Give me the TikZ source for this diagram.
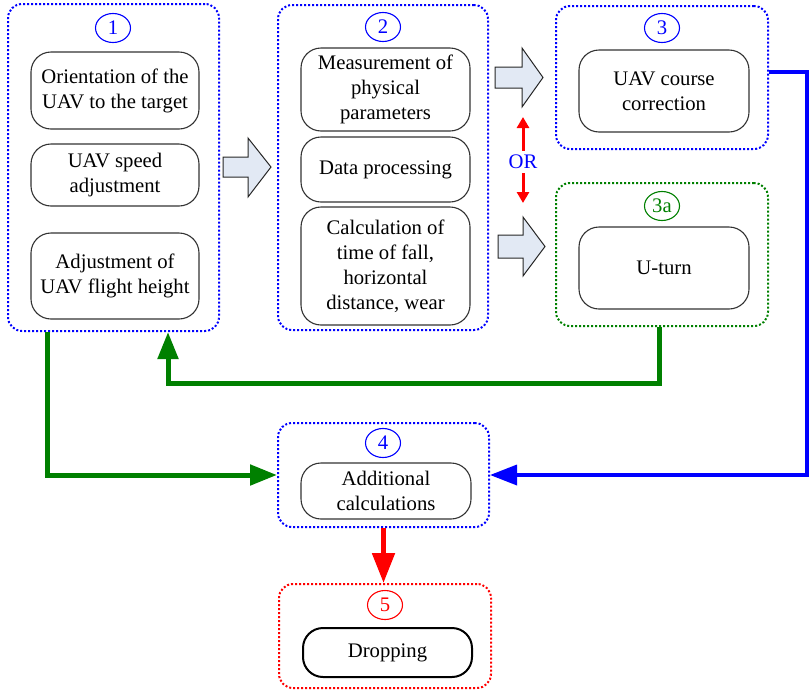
\documentclass[tikz,border=0pt]{standalone}
\usepackage{fontspec}
\setmainfont{Liberation Serif}
\newfontfamily\tnrfont{Liberation Serif}
\usetikzlibrary{arrows.meta,shapes.geometric}
\definecolor{myblue}{RGB}{0,0,255}
\definecolor{mygreen}{RGB}{0,128,0}
\definecolor{myred}{RGB}{255,0,0}
\definecolor{arrfill}{RGB}{226,233,244}
\newcommand{\fsz}{\tnrfont\fontsize{20.7}{25}\selectfont}
\begin{document}
\begin{tikzpicture}[x=1pt,y=-1pt,
  grp/.style={draw, line width=2pt, dash pattern=on 2pt off 2pt, rounded corners=14pt, inner sep=0pt},
  inbox/.style={draw=black!80, line width=1.1pt, rounded corners=20pt, align=center, font=\fsz, inner sep=0pt},
  num/.style={ellipse, draw, line width=1.1pt, minimum width=35pt, minimum height=29pt, inner sep=0pt, font=\fsz},
  blockarr/.style={draw=black!85, line width=1pt, fill=arrfill, line join=miter},
  blueline/.style={draw=myblue, line width=3.5pt, -{Triangle[length=27pt,width=20pt]}},
  greenline/.style={draw=mygreen, line width=5pt, -{Triangle[length=27pt,width=20pt]}},
  redline/.style={draw=myred, line width=5pt, -{Triangle[length=30pt,width=22pt]}},
  orarr/.style={draw=myred, line width=3pt, -{Triangle[length=11pt,width=12pt]}}]
\useasboundingbox (0,0) rectangle (811,694);
% group frames
\node[grp, draw=myblue, minimum width=211pt, minimum height=327pt] (g1) at (113.5,167.5) {};
\node[grp, draw=myblue, minimum width=210pt, minimum height=325pt] (g2) at (383,167.5) {};
\node[grp, draw=myblue, minimum width=212pt, minimum height=143pt] (g3) at (662,77.5) {};
\node[grp, draw=mygreen, minimum width=212pt, minimum height=143pt] (g3a) at (662,254.5) {};
\node[grp, draw=myblue, minimum width=211pt, minimum height=104pt] (g4) at (383.5,475) {};
\node[grp, draw=myred, minimum width=212pt, minimum height=104pt] (g5) at (385,636) {};
% numbers
\node[num, draw=myblue, text=myblue] (n1) at (113,28) {1};
\node[num, draw=myblue, text=myblue] (n2) at (383,27) {2};
\node[num, draw=myblue, text=myblue] (n3) at (662,28) {3};
\node[num, draw=mygreen, text=mygreen] (n3a) at (662,206) {3a};
\node[num, draw=myblue, text=myblue] (n4) at (383,443) {4};
\node[num, draw=myred, text=myred] (n5) at (385,605) {5};
% inner boxes
\node[inbox, minimum width=168pt, minimum height=77pt] (b1a) at (115,90.5) {Orientation of the\\UAV to the target};
\node[inbox, minimum width=168pt, minimum height=62pt] (b1b) at (115,175) {UAV speed\\adjustment};
\node[inbox, minimum width=168pt, minimum height=86pt] (b1c) at (115,276) {Adjustment of\\UAV flight height};
\node[inbox, minimum width=169pt, minimum height=83pt] (b2a) at (385.5,89.5) {Measurement of\\physical\\parameters};
\node[inbox, minimum width=169pt, minimum height=65pt] (b2b) at (385.5,169.5) {Data processing};
\node[inbox, minimum width=169pt, minimum height=118pt] (b2c) at (385.5,266) {Calculation of\\time of fall,\\horizontal\\distance, wear};
\node[inbox, minimum width=170pt, minimum height=82pt] (b3) at (664,91) {UAV course\\correction};
\node[inbox, minimum width=170pt, minimum height=82pt] (b3a) at (664,268) {U-turn};
\node[inbox, minimum width=170pt, minimum height=56pt] (b4) at (386,491) {Additional\\calculations};
\node[inbox, draw=black, line width=2pt, minimum width=169pt, minimum height=49pt] (b5) at (387.5,652.5) {Dropping};
% block arrows
\draw[blockarr] (223,157) -- (248,157) -- (248,138) -- (271,167) -- (248,197) -- (248,177) -- (223,177) -- cycle;
\draw[blockarr] (495,67) -- (522,67) -- (522,48) -- (543,77.5) -- (522,107) -- (522,88) -- (495,88) -- cycle;
\draw[blockarr] (498,235) -- (523,235) -- (523,217) -- (545,246.5) -- (523,276) -- (523,258) -- (498,258) -- cycle;
% OR
\node[font=\fsz, text=myblue, inner sep=1pt] (or) at (523,162) {OR};
\coordinate (ortop) at (523,117);
\coordinate (orbot) at (523,203);
\draw[orarr] (or.north) ++(0,-3) -- (ortop);
\draw[orarr] (or.south) ++(0,3) -- (orbot);
% connectors
\draw[blueline] ([yshift=5.5pt]g3.east) -- (807,72) |- (g4.east);
\draw[greenline] ([xshift=-3pt]g3a.south) -- ++(0,56) -| ([xshift=54.5pt]g1.south);
\draw[greenline] ([xshift=-66.5pt]g1.south) |- (g4.west);
\draw[redline] (g4.south) -- (g4.south |- g5.north);
\end{tikzpicture}
\end{document}
